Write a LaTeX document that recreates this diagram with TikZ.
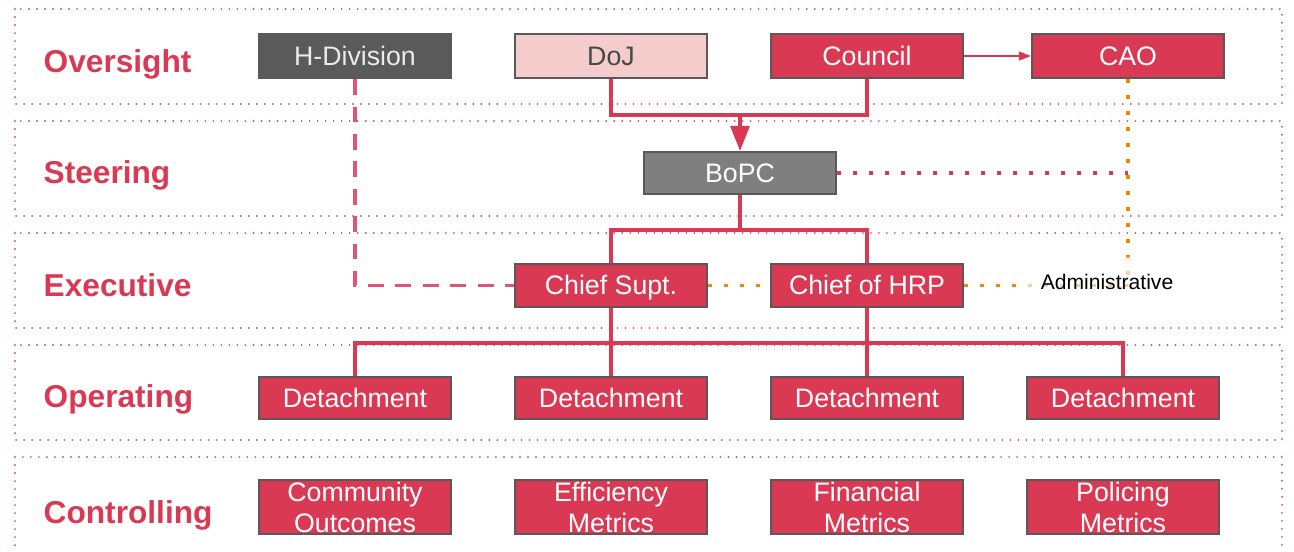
\documentclass[tikz,border=0pt]{standalone}
\usepackage{fontspec}
\setsansfont{Liberation Sans}
\usetikzlibrary{arrows.meta}
\definecolor{cred}{HTML}{DA3954}
\definecolor{clight}{HTML}{E05570}
\definecolor{cpink}{HTML}{F4CCCC}
\definecolor{cdark}{HTML}{5A5A5A}
\definecolor{cgrey}{HTML}{7F7F7F}
\definecolor{cedge}{HTML}{595959}
\definecolor{corange}{HTML}{E8890C}
\tikzset{
  every picture/.style={font=\sffamily, x=0.01cm, y=-0.01cm},
  box/.style={draw=cedge, fill=#1, line width=0.6pt, text=white, align=center, inner sep=0pt,
    minimum width=1.92cm, minimum height=0.43cm, font=\sffamily\fontsize{7.6}{8.8}\selectfont},
  box/.default=cred,
  oneline/.style={text height=6.2pt, text depth=1pt},
  band/.style={draw=clight, line width=0.6pt, line cap=round, dash pattern=on 0pt off 2.28pt},
  level/.style={anchor=base west, inner sep=0pt, text=cred, font=\sffamily\bfseries\fontsize{9}{10}\selectfont},
  link/.style={draw=cred, line width=0.9pt},
  dashlink/.style={draw=clight, line width=1.1pt, dash pattern=on 4.5pt off 3.3pt},
  reddots/.style={draw=cred, line width=1pt, dash pattern=on 1pt off 3.55pt},
  orangedots/.style={draw=corange, line width=1pt, dash pattern=on 1pt off 3.55pt},
}
\begin{document}
\begin{tikzpicture}
  \useasboundingbox (0,0) rectangle (1294,551);
  \foreach \top/\bot/\base/\name in {9/104/72/Oversight, 121/216/183/Steering, 233/328/296/Executive,
      345/440/407/Operating, 457/565/523/Controlling} {
    \draw[band] (15,\top) rectangle (1282,\bot);
    \node[level] at (43,\base) {\name};
  }
  \node[box=cdark, oneline, text=white!92!black, minimum height=0.44cm] (hdiv) at (355,56) {H-Division};
  \node[box=cpink, oneline, text=cdark!80!black, minimum height=0.44cm] (doj) at (611,56) {DoJ};
  \node[box, oneline, minimum height=0.44cm] (council) at (867,56) {Council};
  \node[box, oneline, minimum height=0.44cm] (cao) at (1128,56) {CAO};
  \node[box=cgrey, oneline, minimum height=0.42cm] (bopc) at (740,173) {BoPC};
  \node[box, oneline] (supt) at (611,285.5) {Chief Supt.};
  \node[box, oneline] (hrp) at (867,285.5) {Chief of HRP};
  \foreach \i/\x in {1/355, 2/611, 3/867, 4/1123}
    \node[box, oneline, minimum height=0.42cm] (det\i) at (\x,398) {Detachment};
  \node[box, minimum height=0.54cm] (ctl1) at (355,507) {Community\\Outcomes};
  \node[box, minimum height=0.54cm] (ctl2) at (611,507) {Efficiency\\Metrics};
  \node[box, minimum height=0.54cm] (ctl3) at (867,507) {Financial\\Metrics};
  \node[box, minimum height=0.54cm] (ctl4) at (1123,507) {Policing\\Metrics};
  \coordinate (merge) at (740,115);
  \coordinate (split) at (740,230);
  \coordinate (bus) at (740,343);
  \coordinate (admin) at (1128,285.5);
  \draw[link] (doj.south) |- (merge) -| (council.south);
  \draw[link, -{Triangle[length=0.25cm, width=0.19cm]}] (merge) -- (bopc.north);
  \draw[draw=cred, line width=0.45pt, -{Triangle[length=0.12cm, width=0.09cm]}] (council.east) -- (cao.west);
  \draw[link] (bopc.south) -- (split);
  \draw[link] (supt.north) |- (split) -| (hrp.north);
  \draw[link] (det1.north) |- (bus) -| (det4.north);
  \draw[link] (supt.south) -- (det2.north);
  \draw[link] (hrp.south) -- (det3.north);
  \draw[dashlink] (hdiv.south) |- (supt.west);
  \draw[reddots] (bopc.east) -- (bopc.east -| admin);
  \draw[orangedots] (supt.east) -- (hrp.west);
  \draw[orangedots] (hrp.east) -- (admin);
  \draw[orangedots] (cao.south) -- (admin);
  \node[fill=white, fill opacity=0.6, text opacity=1, inner sep=5pt, font=\sffamily\fontsize{6}{7}\selectfont] (adminlabel) at (1107,282) {Administrative};
\end{tikzpicture}
\end{document}
